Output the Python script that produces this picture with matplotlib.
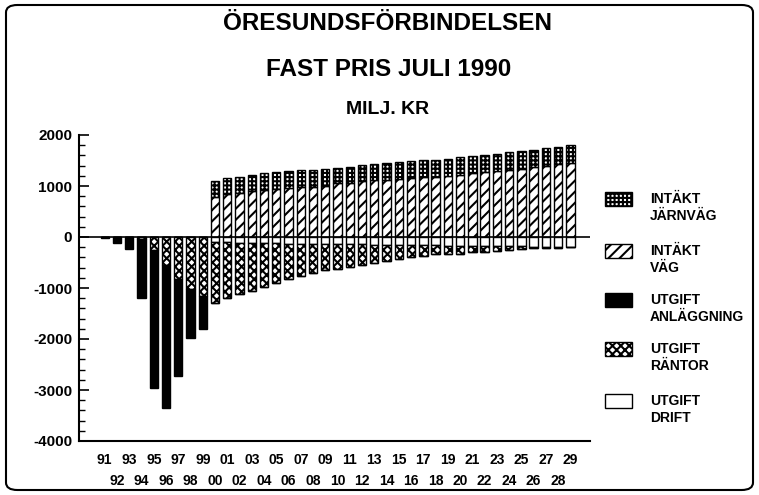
import matplotlib
matplotlib.use("Agg")
import matplotlib.pyplot as plt
from matplotlib.patches import Rectangle, FancyBboxPatch

# years 1991 - 2029
years = list(range(1991, 2030))

# revenue (positive), MSEK
intakt_vag = [0, 0, 0, 0, 0, 0, 0, 0, 0,
              790, 840, 865, 900, 925, 950, 965, 975, 975, 995,
              1050, 1065, 1100, 1110, 1125, 1140, 1155, 1175, 1180, 1195,
              1225, 1255, 1270, 1285, 1320, 1340, 1365, 1400, 1430, 1460]
intakt_jarnvag = [0, 0, 0, 0, 0, 0, 0, 0, 0,
                  310, 310, 315, 320, 325, 330, 335, 335, 340, 340,
                  310, 315, 315, 320, 325, 325, 330, 330, 330, 335,
                  335, 335, 340, 340, 340, 340, 340, 340, 340, 340]

# costs (negative), MSEK
utgift_drift = [0, 0, 0, 0, 0, 0, 0, 0, 0,
                -100, -105, -110, -115, -120, -125, -130, -130, -135, -135,
                -140, -140, -145, -150, -150, -155, -160, -160, -165, -170,
                -170, -175, -175, -180, -185, -185, -190, -195, -195, -200]
utgift_rantor = [0, 0, 0, -30, -250, -550, -830, -1010, -1160,
                 -1200, -1090, -1005, -935, -860, -775, -695, -640, -575, -515,
                 -485, -440, -400, -360, -315, -270, -235, -205, -175, -155,
                 -160, -125, -115, -95, -70, -55, -35, -25, -15, 0]
utgift_anlaggning = [-20, -120, -230, -1170, -2710, -2800, -1890, -970, -650,
                     0, 0, 0, 0, 0, 0, 0, 0, 0, 0,
                     0, 0, 0, 0, 0, 0, 0, 0, 0, 0,
                     0, 0, 0, 0, 0, 0, 0, 0, 0, 0]

legend_labels = ["INTÄKT\nJÄRNVÄG", "INTÄKT\nVÄG", "UTGIFT\nANLÄGGNING",
                 "UTGIFT\nRÄNTOR", "UTGIFT\nDRIFT"]

plt.rcParams['font.family'] = ['Liberation Sans', 'DejaVu Sans']
plt.rcParams['hatch.linewidth'] = 1.5

W, H = 759, 495
fig = plt.figure(figsize=(W / 100, H / 100), dpi=100)
ax = fig.add_axes([79 / W, 1 - 441 / H, (590 - 79) / W, (441 - 135) / H])

bw = 0.68
edge = dict(edgecolor='black', linewidth=1.0)

# positive stack: road revenue, rail revenue on top
ax.bar(years, intakt_vag, bw, color='white', hatch='///', **edge)
ax.bar(years, intakt_jarnvag, bw, bottom=intakt_vag, color='white', hatch='++++', **edge)

# negative stack: operation, interest, construction
bottom_r = utgift_drift
bottom_a = [d + r for d, r in zip(utgift_drift, utgift_rantor)]
ax.bar(years, utgift_drift, bw, color='white', **edge)
ax.bar(years, utgift_rantor, bw, bottom=bottom_r, color='white', hatch='xxxx', **edge)
ax.bar(years, utgift_anlaggning, bw, bottom=bottom_a, color='black', **edge)

ax.axhline(0, color='black', linewidth=1.2, zorder=5)

ax.set_xlim(1988.9, 2030.6)
ax.set_ylim(-4000, 2000)

# y axis
ax.set_yticks(range(-4000, 2001, 1000))
ax.set_yticklabels([str(v) for v in range(-4000, 2001, 1000)], fontsize=11, fontweight='bold')
ax.set_yticks(range(-4000, 2001, 200), minor=True)
ax.tick_params(axis='y', which='major', direction='in', length=7, width=1.2, pad=5)
ax.tick_params(axis='y', which='minor', direction='in', length=4, width=1.0)

# x axis: odd years on first row, even years on second row
odd = [y for y in years if y % 2 == 1]
even = [y for y in years if y % 2 == 0]
ax.set_xticks(odd)
ax.set_xticklabels(["%02d" % (y % 100) for y in odd], fontsize=10, fontweight='bold')
ax.set_xticks(even, minor=True)
ax.set_xticklabels(["%02d" % (y % 100) for y in even], minor=True, fontsize=10, fontweight='bold')
ax.tick_params(axis='x', which='major', length=0, pad=9)
ax.tick_params(axis='x', which='minor', length=0, pad=24)

for s in ['top', 'right']:
    ax.spines[s].set_visible(False)
ax.spines['left'].set_linewidth(1.5)
ax.spines['bottom'].set_linewidth(1.5)

# titles
fig.text(388 / W, 1 - 23 / H, "ÖRESUNDSFÖRBINDELSEN", ha='center', va='center',
         fontsize=17.5, fontweight='bold')
fig.text(389 / W, 1 - 70 / H, "FAST PRIS JULI 1990", ha='center', va='center',
         fontsize=17.5, fontweight='bold')
fig.text(388 / W, 1 - 109 / H, "MILJ. KR", ha='center', va='center',
         fontsize=14, fontweight='bold')

# legend drawn by hand, one swatch per series
styles = [('white', '++++'), ('white', '///'), ('black', None), ('white', 'xxxx'), ('white', None)]
ys = [199, 251, 300, 349, 401]
for (fc, hatch), yc, lab in zip(styles, ys, legend_labels):
    fig.add_artist(Rectangle((605 / W, 1 - (yc + 7) / H), 27 / W, 14 / H,
                             transform=fig.transFigure, facecolor=fc, hatch=hatch,
                             edgecolor='black', linewidth=1.0))
    fig.text(650 / W, 1 - (yc - 7) / H, lab, ha='left', va='top', fontsize=10,
             fontweight='bold', linespacing=1.3)

# rounded frame round the whole picture
fig.add_artist(FancyBboxPatch((6 / W, 5 / H), (W - 12) / W, (H - 10) / H,
                              boxstyle="round,pad=0,rounding_size=0.015",
                              transform=fig.transFigure, fill=False,
                              edgecolor='black', linewidth=1.5))

fig.savefig("out.png", dpi=100)
